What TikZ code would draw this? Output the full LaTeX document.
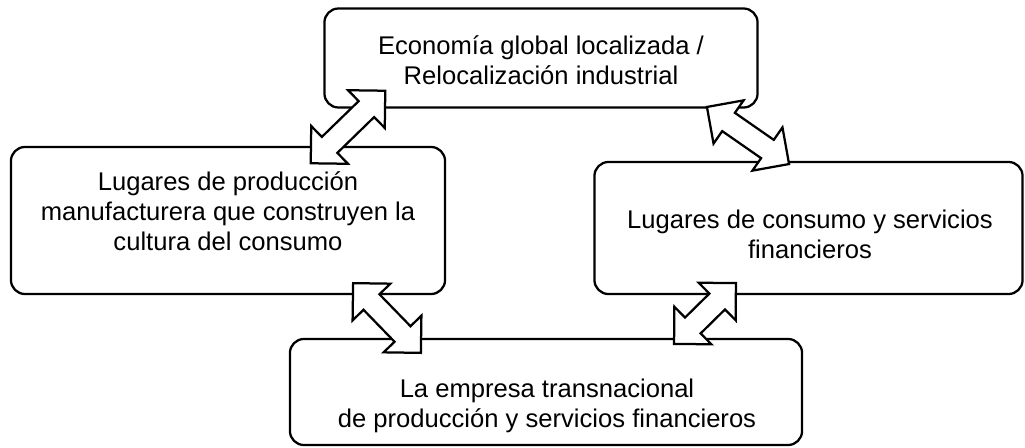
\documentclass[tikz,border=0pt]{standalone}
\usepackage{fontspec}
\setmainfont{Liberation Sans}
\usetikzlibrary{shapes.arrows}

\tikzset{
  box/.style={draw, line width=1.6pt, rounded corners=0.35cm, inner sep=0pt},
  txt/.style={align=center, font=\fontsize{18.2}{21.3}\selectfont},
  dblarrow/.style={double arrow, draw, fill=white, line width=1.6pt,
    inner sep=0.25cm, double arrow head extend=0.38cm, minimum height=#1},
}

\begin{document}
\begin{tikzpicture}[x=0.025cm, y=-0.025cm]
    \useasboundingbox (0,0) rectangle (1025,447);

    % Draw the four rounded boxes
    \node[box, minimum width=10.825cm, minimum height=2.475cm] (econ) at (541,58) {};
    \node[box, minimum width=10.85cm, minimum height=3.675cm] (prod) at (228,220.5) {};
    \node[box, minimum width=10.7cm, minimum height=3.3cm] (cons) at (808.5,228) {};
    \node[box, minimum width=12.8cm, minimum height=2.65cm] (emp) at (546,392) {};

    % Texts of the boxes
    \node[txt] (econ text) at (541,60) {Economía global localizada /\\Relocalización industrial};
    \node[txt] (prod text) at (228,211) {Lugares de producción\\manufacturera que construyen la\\cultura del consumo};
    \node[txt] (cons text) at (810,234) {Lugares de consumo y servicios\\financieros};
    \node[txt] (emp text) at (547,406) {La empresa transnacional\\de producción y servicios financieros};

    % End points of the double arrows
    \coordinate (pe1) at (311,163);
    \coordinate (pe2) at (385,91);
    \coordinate (ec1) at (707,107);
    \coordinate (ec2) at (789,164);
    \coordinate (pt1) at (353,283);
    \coordinate (pt2) at (421,353);
    \coordinate (ct1) at (674,344);
    \coordinate (ct2) at (736,283);

    % Double arrows between the boxes
    \path (pe1) -- (pe2) node[dblarrow=2.6cm, midway, sloped] (arr pe) {};
    \path (ec1) -- (ec2) node[dblarrow=2.5cm, midway, sloped] (arr ec) {};
    \path (pt1) -- (pt2) node[dblarrow=2.43cm, midway, sloped] (arr pt) {};
    \path (ct1) -- (ct2) node[dblarrow=2.17cm, midway, sloped] (arr ct) {};
\end{tikzpicture}
\end{document}
